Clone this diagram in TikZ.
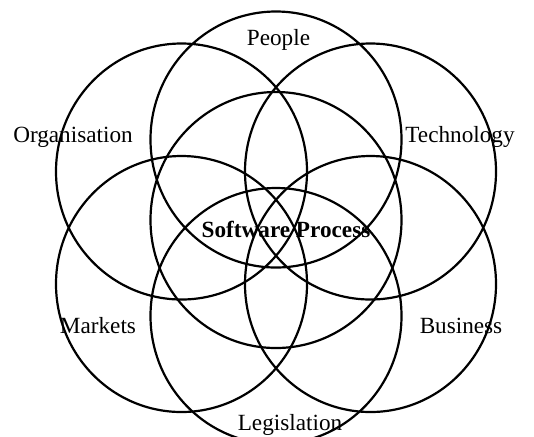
\documentclass[tikz,border=0pt]{standalone}
\usepackage{fontspec}
\setmainfont{Liberation Serif}
\tikzset{
  ring/.style={draw=black, line width=1.1pt},
  lab/.style={anchor=base, inner sep=0pt, font=\fontsize{11.6}{14}\selectfont},
  mainlab/.style={lab, font=\fontsize{11.6}{14}\selectfont\bfseries}
}
\begin{document}
\begin{tikzpicture}[x=0.5pt, y=-0.5pt]
  \useasboundingbox (0,0) rectangle (534,436);
  % circles (ellipses)
  \foreach \cx/\cy in {276/220, 276/139.5, 276/316, 181.5/171.5, 370.5/171.5, 181.5/284, 370.5/284}{
    \draw[ring] (\cx,\cy) ellipse [x radius=62.75pt, y radius=64pt];
  }
  % labels
  \node[lab] (people) at (278.5,45) {People};
  \node[lab] (org) at (73,142) {Organisation};
  \node[lab] (tech) at (460,142) {Technology};
  \node[mainlab] (sp) at (286,237) {Software Process};
  \node[lab] (markets) at (98,333) {Markets};
  \node[lab] (business) at (461,333) {Business};
  \node[lab] (legis) at (290,430) {Legislation};
\end{tikzpicture}
\end{document}
